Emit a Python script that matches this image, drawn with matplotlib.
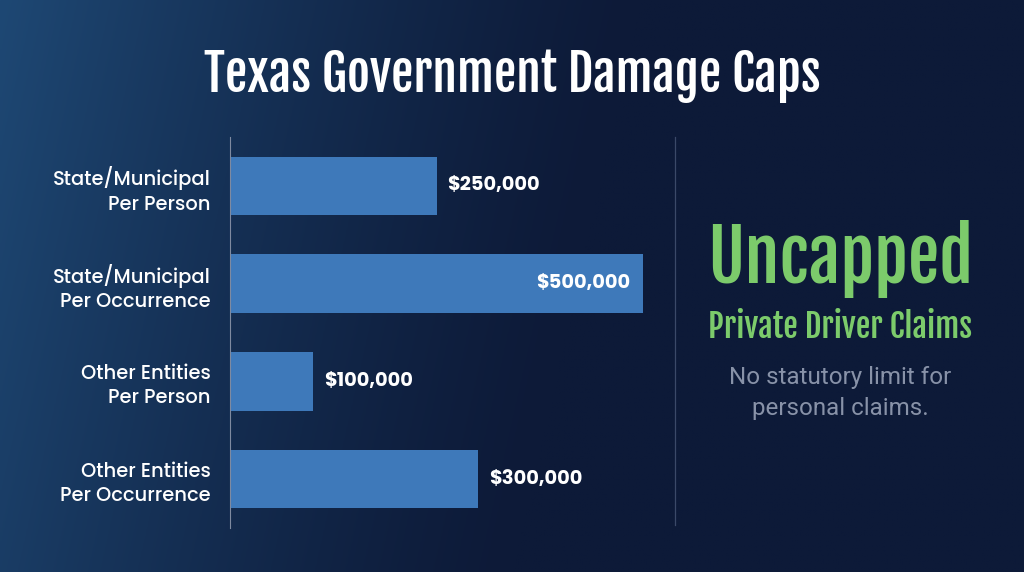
import numpy as np
import matplotlib
matplotlib.use("Agg")
import matplotlib.pyplot as plt
from matplotlib import font_manager

# data
categories = [
    "State/Municipal\nPer Person",
    "State/Municipal\nPer Occurrence",
    "Other Entities\nPer Person",
    "Other Entities\nPer Occurrence",
]
caps = [250000, 500000, 100000, 300000]
value_labels = ["$250,000", "$500,000", "$100,000", "$300,000"]

title = "Texas Government Damage Caps"
side_big = "Uncapped"
side_sub = "Private Driver Claims"
side_note = "No statutory limit for\npersonal claims."


def pick_family(candidates, weights=(500, 700)):
    # first family with static (non-variable) files for the wanted weights
    for fam in candidates:
        ws = {f.weight for f in font_manager.fontManager.ttflist
              if f.name == fam and f.style == "normal" and "[" not in f.fname}
        if all(w in ws for w in weights):
            return fam
    return "Roboto"


names = {f.name for f in font_manager.fontManager.ttflist}
label_family = pick_family(["Poppins", "Lato", "Open Sans", "Roboto"])
head_family = "Fjalla One" if "Fjalla One" in names else "Oswald"

W, H = 1024, 572
fig = plt.figure(figsize=(W / 100, H / 100), dpi=100)
renderer = fig.canvas.get_renderer()


def size_for(s, width_px, **kw):
    # font size that makes text s about width_px wide
    t = fig.text(0, 0, s, fontsize=20, **kw)
    w = t.get_window_extent(renderer).width
    t.remove()
    return 20 * width_px / w


# background gradient
bg = fig.add_axes([0, 0, 1, 1])
xx, yy = np.meshgrid(np.linspace(0, 1, 400), np.linspace(0, 1, 224))
t = np.clip(1 - xx * 1.6 - 0.2 * yy, 0, 1) ** 1.3
c_dark = np.array([13, 26, 56]) / 255
c_light = np.array([30, 72, 116]) / 255
img = c_dark + (c_light - c_dark) * t[..., None]
bg.imshow(img, extent=[0, 1, 0, 1], aspect="auto", origin="upper")
bg.set_xlim(0, 1)
bg.set_ylim(0, 1)
bg.set_axis_off()

title_kw = dict(family=head_family)
fig.text(0.5, 1 - 92 / H, title, ha="center", va="baseline", color="white",
         fontsize=size_for(title, 617, **title_kw), **title_kw)

# bar chart
ax = fig.add_axes([230 / W, 1 - 528 / H, (700 - 230) / W, (528 - 137) / H])
ax.set_facecolor("none")
y = np.arange(len(caps))
ax.barh(y, caps, height=0.6, color="#3e79ba")
ax.set_ylim(3.5, -0.5)
ax.set_xlim(0, 500000 * (700 - 230) / (643 - 230))

lab_kw = dict(family=label_family, fontweight=500)
lab_fs = min(size_for("State/Municipal", 165, **lab_kw), 14)
ax.set_yticks(y)
ax.set_yticklabels(categories, color="white", fontsize=lab_fs,
                   linespacing=25 / (lab_fs * 100 / 72), **lab_kw)
ax.tick_params(axis="y", length=0, pad=14)
ax.set_xticks([])
for s in ["top", "right", "bottom"]:
    ax.spines[s].set_visible(False)
ax.spines["left"].set_color("#7f8aa0")
ax.spines["left"].set_linewidth(0.8)

val_kw = dict(family=label_family, fontweight=700)
val_fs = min(size_for("$250,000", 98, **val_kw), 14)
xmax = max(caps)
for yi, v, lab in zip(y, caps, value_labels):
    inside = v == xmax
    ax.annotate(lab, (v, yi), xytext=(-9 if inside else 8, 0),
                textcoords="offset points", ha="right" if inside else "left",
                va="center", color="white", fontsize=val_fs, **val_kw)

# divider
bg.plot([675 / W, 675 / W], [1 - 137 / H, 1 - 525 / H], color="#3b4968", lw=0.9)

# right panel
green = "#7ccb6b"
big_kw = dict(family=head_family)
fig.text(840 / W, 1 - 283 / H, side_big, ha="center", va="baseline", color=green,
         fontsize=size_for(side_big, 266, **big_kw), **big_kw)
fig.text(840 / W, 1 - 338 / H, side_sub, ha="center", va="baseline", color=green,
         fontsize=size_for(side_sub, 264, **big_kw), **big_kw)
note_fs = size_for("No statutory limit for", 221, family="Roboto")
fig.text(840 / W, 1 - 393 / H, side_note, ha="center", va="center", color="#8892a8",
         fontsize=note_fs, family="Roboto", linespacing=1.45)

fig.savefig("out.png", dpi=100)
